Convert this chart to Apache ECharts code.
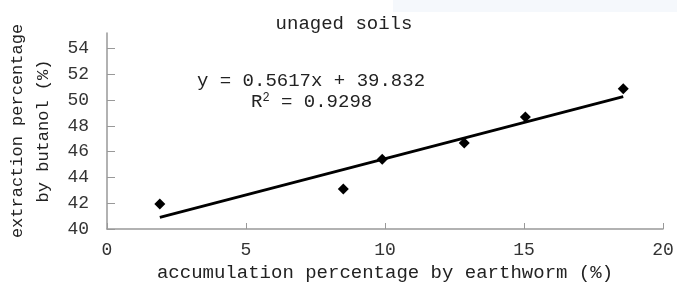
<!DOCTYPE html>
<html>
<head>
<meta charset="utf-8">
<script src="https://cdn.jsdelivr.net/npm/echarts@6/dist/echarts.min.js"></script>
<style>
  html, body { margin: 0; padding: 0; background: #fff; }
  #chart { width: 677px; height: 283px; }
</style>
</head>
<body>
<div id="chart"></div>
<script>
// measured points (accumulation %, extraction %)
var accumulation = [1.9, 8.5, 9.9, 12.85, 15.05, 18.57];
var extraction = [41.93, 43.1, 45.4, 46.67, 48.69, 50.88];
// printed regression
var slope = 0.5617;
var intercept = 39.832;
var r2Text = '0.9298';
var yTicks = [40, 42, 44, 46, 48, 50, 52, 54];
var xTicks = [0, 5, 10, 15, 20];

var font = 'Liberation Mono';
var chart = echarts.init(document.getElementById('chart'));

var points = accumulation.map(function (x, i) { return [x, extraction[i]]; });
var x0 = accumulation[0], x1 = accumulation[accumulation.length - 1];
var trend = [[x0, slope * x0 + intercept], [x1, slope * x1 + intercept]];

chart.setOption({
  backgroundColor: '#ffffff',
  animation: false,
  title: {
    text: 'unaged soils',
    left: 339,
    top: 9,
    textAlign: 'center',
    textStyle: { fontFamily: font, fontWeight: 'normal', fontSize: 19, color: '#222' }
  },
  grid: { left: 107, right: 14, top: 33, bottom: 54, outerBoundsMode: 'none' },
  xAxis: {
    type: 'value',
    min: 0, max: 20, interval: 5,
    name: 'accumulation percentage by earthworm (%)',
    nameLocation: 'middle',
    nameGap: 32,
    nameTextStyle: { fontFamily: font, fontSize: 19, color: '#222' },
    axisLine: { lineStyle: { color: '#999', width: 1.5 } },
    axisTick: { inside: true, length: 6, lineStyle: { color: '#999' } },
    axisLabel: { fontFamily: font, fontSize: 18, color: '#333', margin: 12, customValues: xTicks },
    splitLine: { show: false }
  },
  yAxis: {
    type: 'value',
    min: 40, max: 55.2,
    name: 'extraction percentage\nby butanol (%)',
    nameLocation: 'middle',
    nameGap: 50,
    nameTextStyle: { fontFamily: font, fontSize: 17, color: '#222', lineHeight: 26 },
    axisLine: { show: true, lineStyle: { color: '#999', width: 1.5 } },
    axisTick: { show: true, inside: true, length: 8, lineStyle: { color: '#999' }, customValues: yTicks },
    axisLabel: { fontFamily: font, fontSize: 18, color: '#333', margin: 18, customValues: yTicks },
    splitLine: { show: false }
  },
  graphic: [
    { type: 'rect', left: 393, top: 0, shape: { width: 284, height: 12 }, style: { fill: '#f5f8fc' }, z: -1 },
    {
      type: 'text', left: 197, top: 71,
      style: { text: 'y = ' + slope + 'x + ' + intercept, font: '19px "' + font + '"', fill: '#222' }
    },
    {
      type: 'text', left: 251, top: 92,
      style: {
        text: 'R{sup|2} = ' + r2Text,
        font: '19px "' + font + '"', fill: '#222',
        rich: { sup: { fontSize: 12, fontFamily: font, verticalAlign: 'top', padding: [0, 0, 8, 0] } }
      }
    }
  ],
  series: [
    {
      type: 'line',
      data: trend,
      symbol: 'none',
      lineStyle: { color: '#000', width: 2.8 },
      z: 2
    },
    {
      type: 'scatter',
      data: points,
      symbol: 'diamond',
      symbolSize: [11, 11],
      itemStyle: { color: '#000', opacity: 1 },
      z: 3
    }
  ]
});
</script>
</body>
</html>
